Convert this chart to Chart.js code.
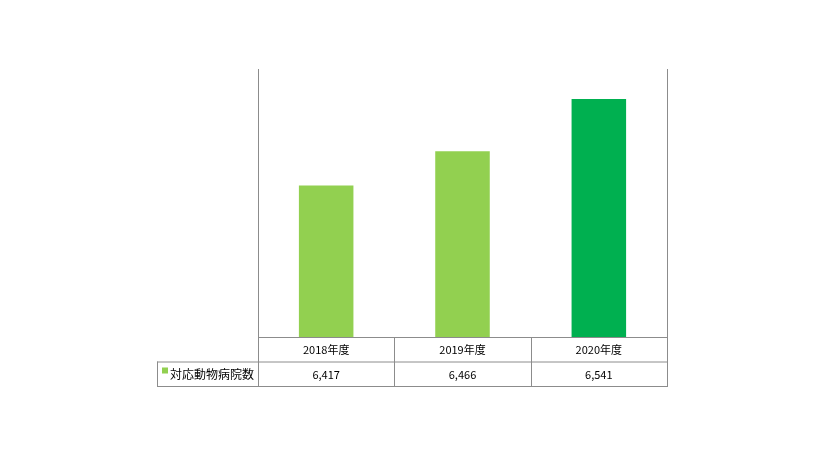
<!DOCTYPE html>
<html>
<head>
<meta charset="utf-8">
<script src="https://cdn.jsdelivr.net/npm/chart.js@4"></script>
<style>
  html, body { margin: 0; padding: 0; background: #fff; }
  canvas { display: block; }
</style>
</head>
<body>
<canvas id="myChart" width="822" height="460"></canvas>
<script>
const categories = ['2018年度', '2019年度', '2020年度'];
const seriesName = '対応動物病院数';
const hospitals = [6417, 6466, 6541];
const barColors = ['#92D050', '#92D050', '#00B050'];

const fontFamily = '"Noto Sans CJK JP", "Noto Sans", sans-serif';
const lineColor = '#8c8c8c';

// data table under the plot (Excel style)
const dataTable = {
    id: 'dataTable',
    afterDraw(chart) {
        const c = chart.ctx;
        const area = chart.chartArea;
        const x = chart.scales.x;
        const half = (area.right - area.left) / categories.length / 2;
        const rowH = 24.5;
        const y0 = area.bottom;
        const y1 = y0 + rowH;
        const y2 = y1 + rowH;
        const legendLeft = 157;

        c.save();
        c.strokeStyle = lineColor;
        c.lineWidth = 1;
        c.beginPath();
        // outer verticals of plot
        c.moveTo(area.left + 0.5, area.top);
        c.lineTo(area.left + 0.5, y2);
        c.moveTo(area.right + 0.5, area.top);
        c.lineTo(area.right + 0.5, y2);
        // horizontals
        c.moveTo(area.left, y0 + 0.5);
        c.lineTo(area.right + 1, y0 + 0.5);
        c.moveTo(legendLeft, y1 + 0.5);
        c.lineTo(area.right + 1, y1 + 0.5);
        c.moveTo(legendLeft, y2 + 0.5);
        c.lineTo(area.right + 1, y2 + 0.5);
        // legend cell left
        c.moveTo(legendLeft + 0.5, y1);
        c.lineTo(legendLeft + 0.5, y2 + 1);
        // column separators
        for (let i = 1; i < categories.length; i++) {
            const px = Math.round(x.getPixelForValue(i) - half) + 0.5;
            c.moveTo(px, y0);
            c.lineTo(px, y2);
        }
        c.stroke();

        c.fillStyle = '#000';
        c.font = '11px ' + fontFamily;
        c.textAlign = 'center';
        c.textBaseline = 'middle';
        categories.forEach((cat, i) => {
            const cx = x.getPixelForValue(i);
            c.fillText(cat, cx, y0 + rowH / 2 + 1);
            c.fillText(hospitals[i].toLocaleString('en-US'), cx, y1 + rowH / 2 + 1);
        });

        // legend key + name
        c.fillStyle = barColors[0];
        c.fillRect(legendLeft + 5, y1 + 6, 6, 6);
        c.fillStyle = '#000';
        c.font = '12px ' + fontFamily;
        c.textAlign = 'left';
        c.fillText(seriesName, legendLeft + 13, y1 + rowH / 2 + 1);
        c.restore();
    }
};

const ctx = document.getElementById('myChart').getContext('2d');

new Chart(ctx, {
    type: 'bar',
    data: {
        labels: categories,
        datasets: [{
            label: seriesName,
            data: hospitals,
            backgroundColor: barColors,
            borderWidth: 0,
            barPercentage: 0.4,
            categoryPercentage: 1
        }]
    },
    options: {
        responsive: false,
        animation: false,
        layout: {
            padding: { left: 258, right: 155, top: 69, bottom: 123 }
        },
        scales: {
            x: { display: false, offset: true },
            y: { display: false, min: 6200, max: 6584 }
        },
        plugins: {
            legend: { display: false },
            tooltip: { enabled: false }
        }
    },
    plugins: [dataTable]
});
</script>
</body>
</html>
